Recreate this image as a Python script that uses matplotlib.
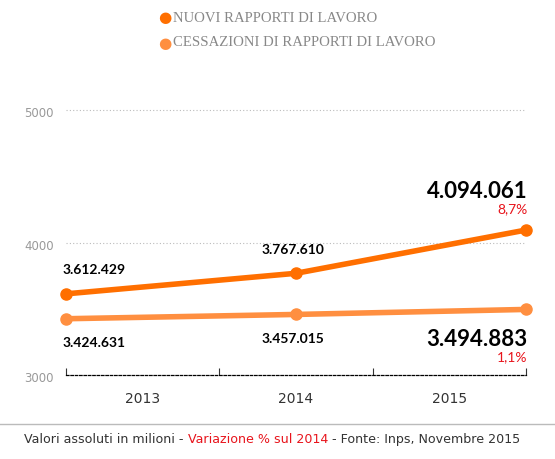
import matplotlib
matplotlib.use("Agg")
import matplotlib.pyplot as plt

years = ["2013", "2014", "2015"]
xpos = [0, 1.5, 3]
nuovi = [3612.429, 3767.610, 4094.061]
cess = [3424.631, 3457.015, 3494.883]
nuovi_lbl = ["3.612.429", "3.767.610", "4.094.061"]
cess_lbl = ["3.424.631", "3.457.015", "3.494.883"]
var_nuovi = "8,7%"
var_cess = "1,1%"

W, H = 555, 460
fig = plt.figure(figsize=(W/100, H/100), dpi=100)
ax = fig.add_axes([66/W, (H-376)/H, (526-66)/W, (376-111)/H])
ax.set_xlim(0, 3)
ax.set_ylim(3000, 5000)
c1, c2 = "#ff6f00", "#ff8f40"
ax.plot(xpos, nuovi, color=c1, lw=4, marker="o", ms=8, clip_on=False, zorder=3)
ax.plot(xpos, cess, color=c2, lw=4, marker="o", ms=8, clip_on=False, zorder=3)
for y in [4000, 5000]:
    ax.plot([0, 3], [y, y], ls=(0, (1, 2)), color="#bbbbbb", lw=0.8, clip_on=False)
for s in ["top", "right", "left"]:
    ax.spines[s].set_visible(False)
ax.spines["bottom"].set_linestyle((0, (2, 1.5)))
ax.spines["bottom"].set_linewidth(0.9)
ax.set_xticks([0, 1, 2, 3])
ax.set_xticklabels([])
ax.tick_params(axis="x", direction="in", length=5, color="#333")
for i, yr in enumerate(years):
    ax.text(i + 0.5, 2880, yr, ha="center", va="top", fontsize=10, color="#333", family="DejaVu Sans")
ax.set_yticks([])
for y in [3000, 4000, 5000]:
    ax.text(-0.08, y - 20, str(y), ha="right", va="center", fontsize=8.5, color="#999", family="DejaVu Sans")
f = "Lato"
for i in range(2):
    ax.text(xpos[i] - 0.02, nuovi[i] + 185, nuovi_lbl[i], ha="left" if i == 0 else "center",
            va="center", fontsize=10, fontweight="bold", family=f)
    ax.text(xpos[i] - 0.02, cess[i] - 175, cess_lbl[i], ha="left" if i == 0 else "center",
            va="center", fontsize=10, fontweight="bold", family=f)
ax.text(3.01, nuovi[2] + 300, nuovi_lbl[2], ha="right", va="center", fontsize=16, fontweight="bold", family=f)
ax.text(3.01, nuovi[2] + 165, var_nuovi, ha="right", va="center", fontsize=10, color="#e8141c", family=f)
ax.text(3.01, cess[2] - 220, cess_lbl[2], ha="right", va="center", fontsize=16, fontweight="bold", family=f)
ax.text(3.01, cess[2] - 355, var_cess, ha="right", va="center", fontsize=10, color="#e8141c", family=f)

# legend
for yy, txt, c in [(18, "NUOVI RAPPORTI DI LAVORO", c1), (43, "CESSAZIONI DI RAPPORTI DI LAVORO", c2)]:
    fig.text(165/W, 1 - yy/H, "●", color=c, fontsize=11, ha="center", va="center", family="DejaVu Sans")
    fig.text(173/W, 1 - yy/H, txt, color="#888", fontsize=10.6, ha="left", va="center", family="Liberation Serif")

fig.add_artist(plt.Line2D([0, 1], [1 - 425/H, 1 - 425/H], color="#bbbbbb", lw=1))
parts = [("Valori assoluti in milioni - ", "#333"), ("Variazione % sul 2014", "#e8141c"),
         (" - Fonte: Inps, Novembre 2015", "#333")]
x0 = 24/W
renderer = fig.canvas.get_renderer()
for s, c in parts:
    tt = fig.text(x0, 1 - 440/H, s, color=c, fontsize=9.1, va="center", ha="left", family="DejaVu Sans")
    bb = tt.get_window_extent(renderer)
    x0 += bb.width / W
fig.savefig("out.png", dpi=100)
